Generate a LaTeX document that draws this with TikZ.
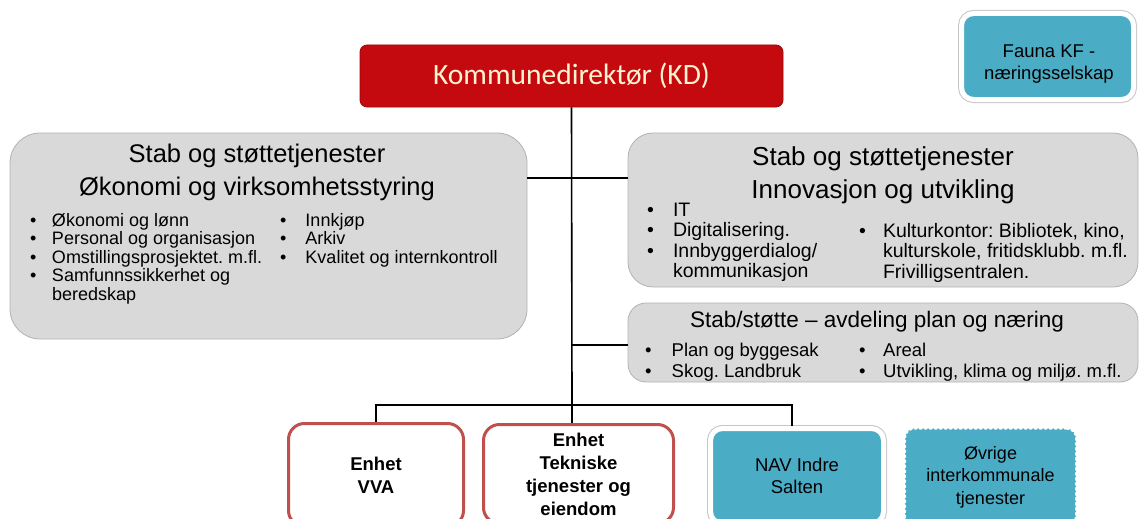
\documentclass[tikz,border=0pt]{standalone}
\usepackage{fontspec}
\setmainfont{Liberation Sans}
\newfontfamily\calibrifont{Carlito}
\usetikzlibrary{positioning}
\frenchspacing

\definecolor{kdred}{RGB}{196,10,14}
\definecolor{kdtext}{RGB}{255,243,210}
\definecolor{stabgray}{RGB}{217,217,217}
\definecolor{navblue}{RGB}{75,172,198}
\definecolor{enhetred}{RGB}{192,80,77}

\newcommand{\liste}[2]{\begin{tabular}[t]{@{}l@{\hspace{#1}}l@{}}#2\end{tabular}}
\newcommand{\punkt}{\textbullet}

\begin{document}
\begin{tikzpicture}[x=1pt, y=-1pt]
\tikzset{
  conn/.style={draw=black, line width=1.6pt},
  stabbox/.style={draw=gray!60, line width=0.8pt, fill=stabgray, rounded corners=#1, inner sep=0pt},
  kdbox/.style={draw=kdred!75!black, line width=0.8pt, fill=kdred, rounded corners=7pt, minimum width=423pt, minimum height=62pt, inner sep=0pt, text=kdtext, font=\calibrifont\fontsize{29.5}{32}\selectfont},
  enhetbox/.style={draw=enhetred, line width=3pt, fill=white, rounded corners=16pt, inner sep=0pt, align=center, font=\bfseries\fontsize{18.5}{23}\selectfont},
  navbox/.style={fill=navblue, draw=white, line width=5pt, rounded corners=12pt, preaction={draw=gray!45, line width=7pt}, inner sep=0pt, align=center, font=\fontsize{18.5}{22}\selectfont},
  dotbox/.style={fill=navblue, draw=white, line width=3pt, dash pattern=on 2pt off 3pt, line cap=round, rounded corners=10pt, inner sep=0pt, align=center, font=\fontsize{18}{22.5}\selectfont},
  tittel/.style 2 args={anchor=base, inner sep=0pt, font=\fontsize{#1}{#2}\selectfont},
  punkter/.style 2 args={anchor=base west, inner sep=0pt, font=\fontsize{#1}{#2}\selectfont}
}
\useasboundingbox (0,0) rectangle (1141,519);
\clip (0,0) rectangle (1141,519);

% top
\node[kdbox] (kd) at (571.5,76) {Kommunedirektør\ (KD)};
\node[navbox, minimum width=172pt, minimum height=86pt] (fauna) at (1047.5,56.5) {};
\node[tittel={18.5}{22}] (faunatekst) at (1049,58) {\begin{tabular}[t]{@{}c@{}}Fauna KF -\\næringsselskap\end{tabular}};

% staff boxes
\node[stabbox=30pt, minimum width=517pt, minimum height=206pt] (stabok) at (268.5,236) {};
\node[stabbox=25pt, minimum width=510pt, minimum height=154pt] (stabinn) at (883,210) {};
\node[stabbox=18pt, minimum width=510pt, minimum height=79pt] (stabplan) at (883,342.5) {};

\node[tittel={25.5}{33}] (oktittel) at (257,162) {\begin{tabular}[t]{@{}c@{}}Stab og støttetjenester\\Økonomi og virksomhetsstyring\end{tabular}};
\node[punkter={18}{18.3}] (okliste1) at (30,226) {\liste{15.5pt}{%
  \punkt & Økonomi og lønn\\
  \punkt & Personal og organisasjon\\
  \punkt & Omstillingsprosjektet. m.fl.\\
  \punkt & Samfunnssikkerhet og\\
         & beredskap}};
\node[punkter={18}{18.3}] (okliste2) at (280,226) {\liste{19pt}{%
  \punkt & Innkjøp\\
  \punkt & Arkiv\\
  \punkt & Kvalitet og internkontroll}};

\node[tittel={26}{33}] (inntittel) at (883,165) {\begin{tabular}[t]{@{}c@{}}Stab og støttetjenester\\Innovasjon og utvikling\end{tabular}};
\node[punkter={19.5}{20.5}] (innliste1) at (647,216) {\liste{19pt}{%
  \punkt & IT\\
  \punkt & Digitalisering.\\
  \punkt & Innbyggerdialog/\\
         & kommunikasjon}};
\node[punkter={19.5}{20.5}] (innliste2) at (859,237) {\liste{17pt}{%
  \punkt & Kulturkontor: Bibliotek, kino,\\
         & kulturskole, fritidsklubb. m.fl.\\
         & Frivilligsentralen.}};

\node[tittel={22.5}{26}] (plantittel) at (877,327) {Stab/støtte – avdeling plan og næring};
\node[punkter={18.5}{21}] (planliste1) at (645,356) {\liste{20pt}{%
  \punkt & Plan og byggesak\\
  \punkt & Skog. Landbruk}};
\node[punkter={18.5}{21}] (planliste2) at (859,356) {\liste{17.5pt}{%
  \punkt & Areal\\
  \punkt & Utvikling, klima og miljø. m.fl.}};

% units
\node[enhetbox, minimum width=175pt, minimum height=103pt] (vva) at (376,475) {Enhet\\VVA};
\node[enhetbox, minimum width=190pt, minimum height=99pt] (tek) at (578.5,474) {Enhet\\Tekniske\\tjenester og\\eiendom};
\node[navbox, minimum width=173pt, minimum height=95pt] (nav) at (797,476) {NAV Indre\\Salten};
\node[dotbox, minimum width=172pt, minimum height=98pt] (ovrige) at (990.5,477) {Øvrige\\interkommunale\\tjenester};

% connectors
\coordinate (hub) at (572,405);
\coordinate (okrow) at (572,178);
\coordinate (planrow) at (572,345);
\draw[conn] (kd.south) -- (hub);
\draw[conn] (stabok.east |- okrow) -- (stabinn.west |- okrow);
\draw[conn] (planrow) -- (stabplan.west |- planrow);
\draw[conn] (vva.north) |- (hub) -| ([xshift=-5pt]nav.north);
\draw[conn] (hub) -- (hub |- tek.north);
\end{tikzpicture}
\end{document}
